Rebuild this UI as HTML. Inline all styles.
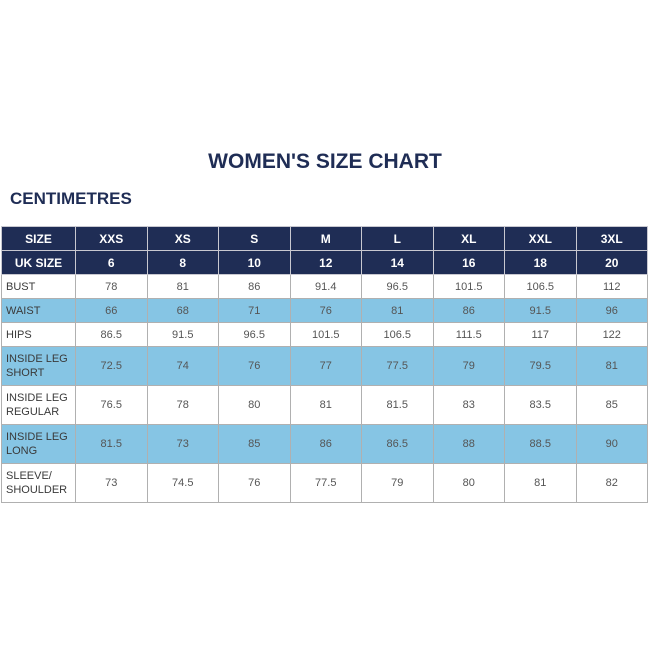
<!DOCTYPE html>
<html><head><style>
body{margin:0;width:650px;height:650px;background:#fff;font-family:"Liberation Sans",sans-serif;position:relative;overflow:hidden}
.t{position:absolute;left:0;width:650px;top:150px;text-align:center;font-size:21px;font-weight:bold;color:#1f2d55}
.c{position:absolute;left:10px;top:189px;font-size:17px;font-weight:bold;color:#1f2d55}
table{position:absolute;left:1px;top:226px;border-collapse:collapse;width:647px;table-layout:fixed}
td{border:1px solid #b0b0b0;text-align:center;font-size:11px;color:#555;padding:0;line-height:14px}
td:first-child{text-align:left;padding-left:4px;color:#3a3a3a}
tr.h td{background:#1f2d55;color:#fff;font-weight:bold;font-size:12px;height:23px;border-color:#c8c8d0}
tr.h td:first-child{text-align:center;padding-left:0;color:#fff}
tr.b td{background:#86c5e4}
tr.s td{height:23px}
tr.d td{height:38px}
</style></head><body>
<div class="t">WOMEN'S SIZE CHART</div>
<div class="c">CENTIMETRES</div>
<table>
<colgroup><col style="width:74px"><col><col><col><col><col><col><col><col></colgroup>
<tr class="h"><td>SIZE</td><td>XXS</td><td>XS</td><td>S</td><td>M</td><td>L</td><td>XL</td><td>XXL</td><td>3XL</td></tr>
<tr class="h"><td>UK SIZE</td><td>6</td><td>8</td><td>10</td><td>12</td><td>14</td><td>16</td><td>18</td><td>20</td></tr>
<tr class="s"><td>BUST</td><td>78</td><td>81</td><td>86</td><td>91.4</td><td>96.5</td><td>101.5</td><td>106.5</td><td>112</td></tr>
<tr class="s b"><td>WAIST</td><td>66</td><td>68</td><td>71</td><td>76</td><td>81</td><td>86</td><td>91.5</td><td>96</td></tr>
<tr class="s"><td>HIPS</td><td>86.5</td><td>91.5</td><td>96.5</td><td>101.5</td><td>106.5</td><td>111.5</td><td>117</td><td>122</td></tr>
<tr class="d b"><td>INSIDE LEG<br>SHORT</td><td>72.5</td><td>74</td><td>76</td><td>77</td><td>77.5</td><td>79</td><td>79.5</td><td>81</td></tr>
<tr class="d"><td>INSIDE LEG<br>REGULAR</td><td>76.5</td><td>78</td><td>80</td><td>81</td><td>81.5</td><td>83</td><td>83.5</td><td>85</td></tr>
<tr class="d b"><td>INSIDE LEG<br>LONG</td><td>81.5</td><td>73</td><td>85</td><td>86</td><td>86.5</td><td>88</td><td>88.5</td><td>90</td></tr>
<tr class="d"><td>SLEEVE/<br>SHOULDER</td><td>73</td><td>74.5</td><td>76</td><td>77.5</td><td>79</td><td>80</td><td>81</td><td>82</td></tr>
</table>
</body></html>
